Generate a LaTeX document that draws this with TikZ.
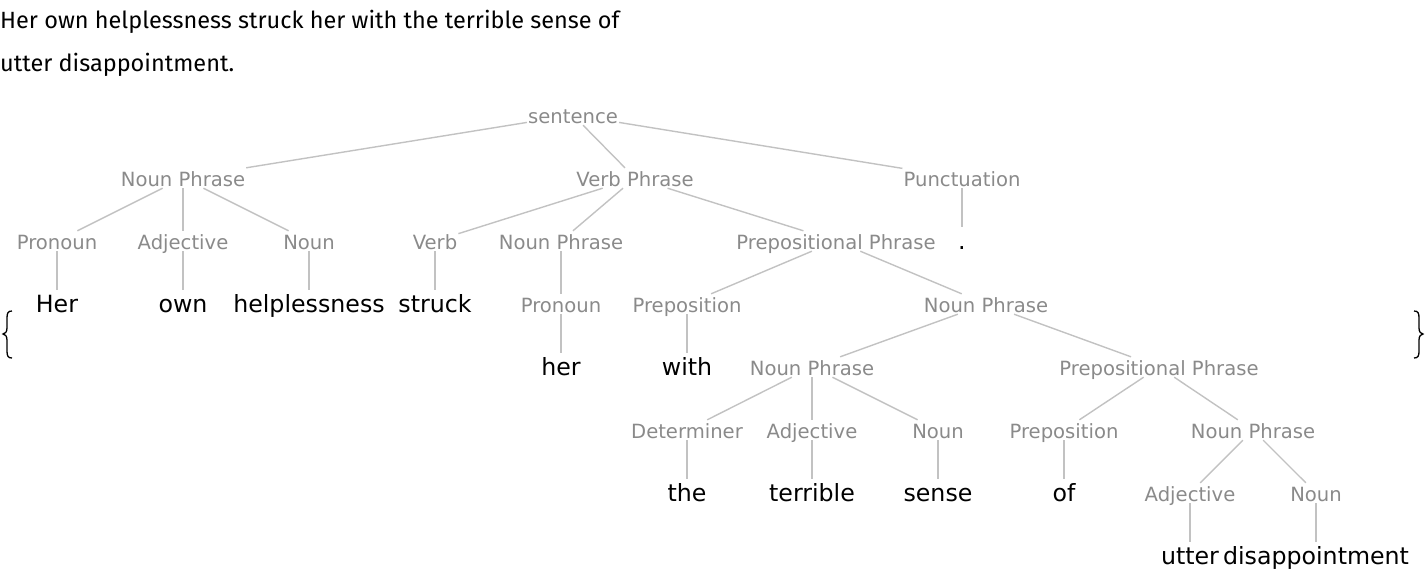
\documentclass[tikz,border=0pt]{standalone}
\usepackage{fontspec}
\usepackage{tikz}
\setmainfont{DejaVu Sans}
\newfontfamily\headfont{Fira Sans}

\definecolor{taggray}{RGB}{138,138,138}
\definecolor{linegray}{RGB}{194,194,194}
\tikzset{
  tag/.style={anchor=base, text=taggray, font=\fontsize{19.6}{20}\selectfont,
    inner xsep=1pt, inner ysep=2pt, text height=16pt, text depth=0pt},
  word/.style={anchor=base, font=\fontsize{23.7}{24}\selectfont,
    inner xsep=1pt, inner ysep=2pt, text height=20pt, text depth=3pt},
  branch/.style={draw=linegray, line width=1.4pt},
  bracket/.style={draw=black, line width=1.3pt}
}

\begin{document}
\begin{tikzpicture}[x=1pt,y=-1pt]
  \useasboundingbox (0,0) rectangle (1426,582);
  % the sentence above the tree
  \node[anchor=base west, inner sep=0pt, font=\headfont\fontsize{23.5}{24}\selectfont] (head1) at (0,28) {Her own helplessness struck her with the terrible sense of};
  \node[anchor=base west, inner sep=0pt, font=\headfont\fontsize{23.5}{24}\selectfont] (head2) at (0,71) {utter disappointment.};

  % braces round the tree
  \draw[bracket] (12,311) .. controls (8,311) and (7,313) .. (7,318) -- (7,328)
    .. controls (7,332) and (5,334) .. (3,334) .. controls (5,334) and (7,336) .. (7,340)
    -- (7,351) .. controls (7,356) and (8,358) .. (12,358);
  \draw[bracket] (1414,311) .. controls (1418,311) and (1419,313) .. (1419,318) -- (1419,328)
    .. controls (1419,332) and (1421,334) .. (1423,334) .. controls (1421,334) and (1419,336) .. (1419,340)
    -- (1419,351) .. controls (1419,356) and (1418,358) .. (1414,358);

  % row 0 and 1
  \node[tag] (s) at (573,123) {sentence};
  \node[tag] (np1) at (183,186) {Noun Phrase};
  \node[tag] (vp) at (635,186) {Verb Phrase};
  \node[tag] (pu) at (962,186) {Punctuation};

  % row 2
  \node[tag] (pro1) at (57,249) {Pronoun};
  \node[tag] (adj1) at (183,249) {Adjective};
  \node[tag] (n1) at (309,249) {Noun};
  \node[tag] (v) at (435,249) {Verb};
  \node[tag] (np2) at (561,249) {Noun Phrase};
  \node[tag] (pp1) at (836,249) {Prepositional Phrase};
  \node[word] (dot) at (962,249) {.};

  % row 3
  \node[word] (her1) at (57,312) {Her};
  \node[word] (own) at (183,312) {own};
  \node[word] (helpl) at (309,312) {helplessness};
  \node[word] (struck) at (435,312) {struck};
  \node[tag] (pro2) at (561,312) {Pronoun};
  \node[tag] (prep1) at (687,312) {Preposition};
  \node[tag] (np3) at (986,312) {Noun Phrase};

  % row 4
  \node[word] (her2) at (561,375) {her};
  \node[word] (with) at (687,375) {with};
  \node[tag] (np4) at (812,375) {Noun Phrase};
  \node[tag] (pp2) at (1159,375) {Prepositional Phrase};

  % row 5
  \node[tag] (det) at (687,438) {Determiner};
  \node[tag] (adj2) at (812,438) {Adjective};
  \node[tag] (n2) at (938,438) {Noun};
  \node[tag] (prep2) at (1064,438) {Preposition};
  \node[tag] (np5) at (1253,438) {Noun Phrase};

  % row 6 and 7
  \node[word] (the) at (687,501) {the};
  \node[word] (terr) at (812,501) {terrible};
  \node[word] (sense) at (938,501) {sense};
  \node[word] (of) at (1064,501) {of};
  \node[tag] (adj3) at (1190,501) {Adjective};
  \node[tag] (n3) at (1316,501) {Noun};
  \node[word] (utter) at (1190,564) {utter};
  \node[word] (disap) at (1316,564) {disappointment};

  % branches
  \foreach \a/\b in {s/np1, s/vp, s/pu, np1/pro1, np1/adj1, np1/n1,
      pro1/her1, adj1/own, n1/helpl, vp/v, vp/np2, vp/pp1, v/struck,
      np2/pro2, pro2/her2, pu/dot, pp1/prep1, pp1/np3, prep1/with,
      np3/np4, np3/pp2, np4/det, np4/adj2, np4/n2, det/the, adj2/terr,
      n2/sense, pp2/prep2, pp2/np5, prep2/of, np5/adj3, np5/n3,
      adj3/utter, n3/disap}
    \draw[branch] (\a) -- (\b);
\end{tikzpicture}
\end{document}
